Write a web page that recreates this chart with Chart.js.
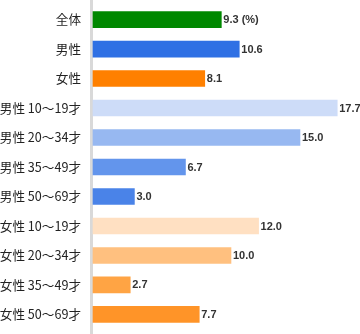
<!DOCTYPE html>
<html>
<head>
<meta charset="utf-8">
<script src="https://cdn.jsdelivr.net/npm/chart.js@4"></script>
<style>
html,body{margin:0;padding:0;background:#fff;}
#wrap{width:360px;height:334px;position:relative;}
</style>
</head>
<body>
<div id="wrap"><canvas id="c"></canvas></div>
<script>
const categories = ['全体','男性','女性','男性 10〜19才','男性 20〜34才','男性 35〜49才','男性 50〜69才','女性 10〜19才','女性 20〜34才','女性 35〜49才','女性 50〜69才'];
const values = [9.3, 10.6, 8.1, 17.7, 15.0, 6.7, 3.0, 12.0, 10.0, 2.7, 7.7];
const valueLabels = ['9.3 (%)','10.6','8.1','17.7','15.0','6.7','3.0','12.0','10.0','2.7','7.7'];
const barColors = ['#008800','#2f70e4','#ff8000','#cddcf8','#97b8f1','#6395ec','#4a83e8','#ffe0c2','#ffc07f','#ffa444','#ff9428'];

const axisLine = {
  id: 'axisLine',
  beforeDatasetsDraw(chart) {
    const ctx = chart.ctx;
    ctx.save();
    ctx.fillStyle = '#d9d9d9';
    ctx.fillRect(chart.chartArea.left - 3, 0, 3, chart.height);
    ctx.restore();
  }
};
const valueText = {
  id: 'valueText',
  afterDatasetsDraw(chart) {
    const ctx = chart.ctx;
    const meta = chart.getDatasetMeta(0);
    ctx.save();
    ctx.font = 'bold 11px "Liberation Sans", Arial, sans-serif';
    ctx.fillStyle = '#333333';
    ctx.textBaseline = 'middle';
    ctx.textAlign = 'left';
    meta.data.forEach((bar, i) => {
      ctx.fillText(valueLabels[i], bar.x + 2, bar.y + 0.5);
    });
    ctx.restore();
  }
};

new Chart(document.getElementById('c'), {
  type: 'bar',
  data: {
    labels: categories,
    datasets: [{
      data: values,
      backgroundColor: barColors,
      borderWidth: 0,
      barThickness: 16,
      clip: false
    }]
  },
  options: {
    indexAxis: 'y',
    responsive: true,
    maintainAspectRatio: false,
    animation: false,
    layout: { padding: { top: 12, bottom: 12, left: 0, right: 0 } },
    plugins: { legend: { display: false }, tooltip: { enabled: false } },
    scales: {
      x: {
        display: false,
        min: 0,
        max: 19.35
      },
      y: {
        offset: false,
        grid: { display: false, drawTicks: false },
        border: { display: false },
        ticks: {
          padding: 12,
          color: '#222222',
          font: { family: '"Noto Sans CJK JP", sans-serif', size: 12.6 }
        },
        afterFit(scale) { scale.width = 93; }
      }
    }
  },
  plugins: [axisLine, valueText]
});
</script>
</body>
</html>
